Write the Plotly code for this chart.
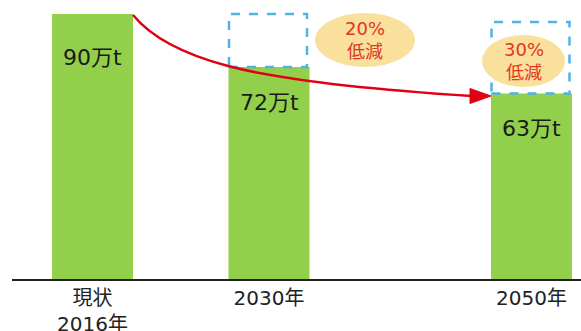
import plotly.graph_objects as go

# ---- data ----
categories = ["現状<br>2016年", "2030年", "2050年"]
values = [90, 72, 63]
value_labels = ["90万t", "72万t", "63万t"]
reduction_labels = ["20%<br>低減", "30%<br>低減"]

# ---- layout helpers (pixel geometry of the reference) ----
W, H = 581, 331
BASE_PX = 279            # pixel row of the baseline
PX_PER_UNIT = 265 / 90   # pixels per unit of value
def Y(p):                # pixel row -> value coordinate
    return (BASE_PX - p) / PX_PER_UNIT

bar_x = [92.5, 269, 531.5]
bar_w = 81
label_shift = [-43, -35, -35]

GREEN = "#92CF4A"
RED_TXT = "#E2361E"
RED_ARROW = "#E00012"
BLUE = "#4FB3E3"
ELLIPSE = "#F9E09C"
FONT = "DejaVu Sans, Noto Sans CJK JP"

fig = go.Figure()
fig.add_trace(go.Bar(x=bar_x, y=values, width=bar_w, marker=dict(color=GREEN, line=dict(width=0)),
                     hoverinfo="skip"))

shapes = []
# dashed "reduction" boxes
box_tops = [90, Y(22)]
for i, (xc, top) in enumerate(zip(bar_x[1:], box_tops)):
    shapes.append(dict(type="rect", xref="x", yref="y",
                       x0=xc - bar_w / 2 + 0.5, x1=xc + bar_w / 2 - 2.5,
                       y0=values[i + 1], y1=top,
                       line=dict(color=BLUE, width=2.5, dash="dash"), layer="above"))
# ellipses
ell = [(315, 415, 13, 67), (482, 565, 35, 87)]
for x0, x1, p0, p1 in ell:
    shapes.append(dict(type="circle", xref="x", yref="y", x0=x0, x1=x1, y0=Y(p1), y1=Y(p0),
                       fillcolor=ELLIPSE, line=dict(width=0), layer="above"))
# red curved arrow
path = (f"M 133,{Y(15)} Q 160,{Y(48)} 228,{Y(66)} "
        f"Q 300,{Y(85)} 472,{Y(96)}")
shapes.append(dict(type="path", xref="x", yref="y", path=path,
                   line=dict(color=RED_ARROW, width=2.5), layer="above"))
shapes.append(dict(type="path", xref="x", yref="y",
                   path=f"M 491,{Y(96)} L 470,{Y(88.5)} L 470,{Y(103.5)} Z",
                   fillcolor=RED_ARROW, line=dict(color=RED_ARROW, width=1), layer="above"))

annotations = []
for xc, v, lab, sh in zip(bar_x, values, value_labels, label_shift):
    annotations.append(dict(x=xc, y=v, xref="x", yref="y", text=lab, showarrow=False,
                            yshift=sh, font=dict(family=FONT, size=22, color="#1a1a1a")))
for (x0, x1, p0, p1), lab in zip(ell, reduction_labels):
    annotations.append(dict(x=(x0 + x1) / 2, y=Y((p0 + p1) / 2), xref="x", yref="y",
                            text=lab, showarrow=False,
                            font=dict(family=FONT, size=18, color=RED_TXT)))

fig.update_layout(
    width=W, height=H,
    margin=dict(l=12, r=0, t=0, b=H - BASE_PX),
    paper_bgcolor="white", plot_bgcolor="white",
    showlegend=False,
    shapes=shapes, annotations=annotations,
    xaxis=dict(range=[12, W], tickvals=bar_x, ticktext=categories,
               showline=True, linecolor="#222", linewidth=2,
               showgrid=False, zeroline=False, ticks="", automargin=False,
               tickfont=dict(family=FONT, size=20, color="#222")),
    yaxis=dict(range=[0, Y(0)], visible=False, showgrid=False, zeroline=False,
               automargin=False),
)

fig.write_html("out.html", config={"displayModeBar": False},
               post_script="document.body.style.margin='0';")
